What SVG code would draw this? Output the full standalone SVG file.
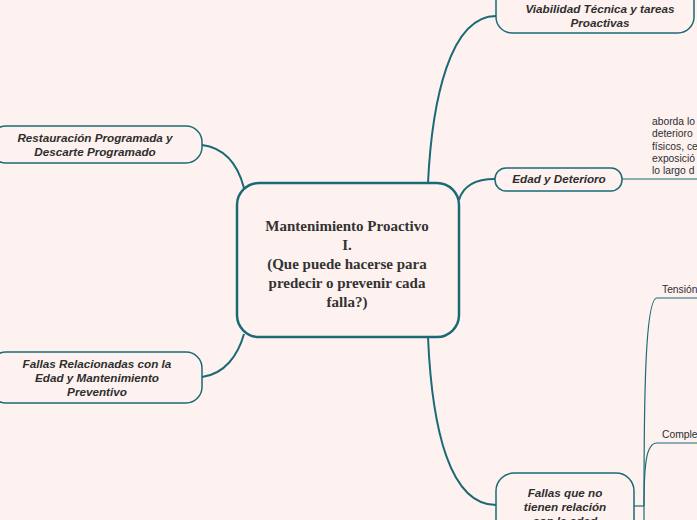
<svg xmlns="http://www.w3.org/2000/svg" width="697" height="520" viewBox="0 0 697 520">
<style>
.bg{fill:#fdf2f0}
.node{fill:#fdf2f0;stroke:#1b6a75;stroke-width:1.5}
.main{fill:#fdf2f0;stroke:#1b6a75;stroke-width:2.5}
.conn{fill:none;stroke:#1b6a75;stroke-width:2}
.thin{fill:none;stroke:#1b6a75;stroke-width:1.2}
.t{font-family:"Liberation Sans",Arial,sans-serif;font-size:11.7px;font-weight:bold;font-style:italic;fill:#2e2e2e;text-anchor:middle}
.c{font-family:"Liberation Serif","Times New Roman",serif;font-size:15px;font-weight:bold;fill:#333;text-anchor:middle}
.b{font-family:"Liberation Sans",Arial,sans-serif;font-size:10.3px;fill:#2e2e2e}
</style>
<rect class="bg" x="0" y="0" width="697" height="520"/>
<g id="connectors">
<path class="conn" d="M428,183 C432,100 450,16 496,16"/>
<path class="conn" d="M459,200 C463,186 476,179 495,179"/>
<path class="conn" d="M202,145 C225,148 238,165 244,188"/>
<path class="conn" d="M202,377 C225,374 238,355 244,334"/>
<path class="conn" d="M428,337 C432,430 450,505 496,505"/>
<path class="thin" d="M622,179 L697,179"/>
<path class="thin" d="M634,506 L644,506"/>
<path class="thin" d="M644,506 C644,400 645,298 657,298 L697,298"/>
<path class="thin" d="M644,506 C644,460 647,443 657,443 L697,443"/>
<path class="thin" d="M644,506 L644,522"/>
</g>
<g id="center">
<rect class="main" x="237" y="183" width="222" height="154" rx="22"/>
<text class="c" x="347" y="231">Mantenimiento Proactivo</text>
<text class="c" x="347" y="250">I.</text>
<text class="c" x="347" y="269">(Que puede hacerse para</text>
<text class="c" x="347" y="288">predecir o prevenir cada</text>
<text class="c" x="347" y="307">falla?)</text>
</g>
<g id="viabilidad">
<rect class="node" x="496" y="-15" width="198" height="48" rx="16"/>
<text class="t" x="600" y="13">Viabilidad Técnica y tareas</text>
<text class="t" x="600" y="27">Proactivas</text>
</g>
<g id="edad">
<rect class="node" x="495" y="168" width="127" height="23" rx="11"/>
<text class="t" x="559" y="183">Edad y Deterioro</text>
</g>
<g id="edad-text">
<text class="b" x="652" y="125">aborda lo</text>
<text class="b" x="652" y="137">deterioro</text>
<text class="b" x="652" y="149.5">físicos, ce</text>
<text class="b" x="652" y="162">exposició</text>
<text class="b" x="652" y="174">lo largo d</text>
</g>
<g id="restauracion">
<rect class="node" x="-10" y="126" width="212" height="37" rx="16"/>
<text class="t" x="95" y="142">Restauración Programada y</text>
<text class="t" x="95" y="156">Descarte Programado</text>
</g>
<g id="fallas-edad">
<rect class="node" x="-10" y="352" width="212" height="51" rx="16"/>
<text class="t" x="97" y="368">Fallas Relacionadas con la</text>
<text class="t" x="97" y="382">Edad y Mantenimiento</text>
<text class="t" x="97" y="396">Preventivo</text>
</g>
<g id="fallas-no">
<rect class="node" x="496" y="473" width="138" height="80" rx="18"/>
<text class="t" x="565" y="497">Fallas que no</text>
<text class="t" x="565" y="511">tienen relación</text>
<text class="t" x="565" y="525">con la edad</text>
</g>
<g id="tension">
<text class="b" x="662" y="293">Tensión</text>
</g>
<g id="comple">
<text class="b" x="662" y="438">Comple</text>
</g>
</svg>
